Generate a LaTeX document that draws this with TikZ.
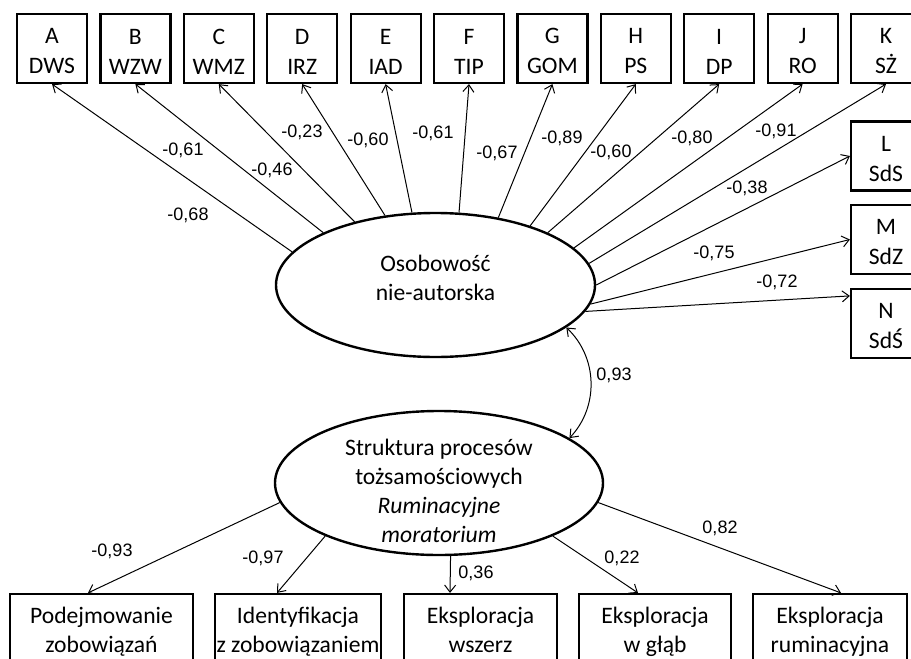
\documentclass[tikz,border=0pt]{standalone}
\usepackage{fontspec}
\setmainfont{Carlito}
\newfontfamily\numfont{Liberation Sans}
\usetikzlibrary{shapes.geometric,arrows.meta,calc}

\begin{document}
\begin{tikzpicture}[x=1pt, y=-1pt, >={Straight Barb[length=7pt,width=11pt]},
	obs/.style={draw, line width=2.2pt, inner sep=0pt, align=center, font=\fontsize{23.6}{30}\selectfont},
	latent/.style={draw, ellipse, line width=2.4pt, inner sep=0pt},
	lattext/.style={align=center, font=\fontsize{23.6}{29}\selectfont},
	load/.style={font=\numfont\fontsize{18}{20}\selectfont},
	path/.style={->, line width=1pt}]
\useasboundingbox (0,0) rectangle (911,659);
\clip (0,0) rectangle (911,659);
% Latent variables
				\node[latent, minimum width=319pt, minimum height=144pt] (osob) at (435.5,285) {};
				\node[lattext] (osobt) at (435.5,277.5) {Osobowość\\nie-autorska};
				\node[latent, minimum width=328pt, minimum height=144pt] (struk) at (439,483) {};
				\node[lattext] (strukt) at (439,490.5) {Struktura procesów\\tożsamościowych\\\textit{Ruminacyjne}\\\textit{moratorium}};
% Indicators of Osobowosc
				\foreach \n/\abbr [count=\i from 0] in {A/DWS,B/WZW,C/WMZ,D/IRZ,E/IAD,F/TIP,G/GOM,H/PS,I/DP,J/RO,K/SŻ}
					\node[obs, minimum width=70pt, minimum height=69pt] (\n) at (52+83.4*\i,48.5) {\strut\n\\\abbr};
				\foreach \n/\abbr/\y in {L/SdS/156,M/SdZ/239.5,N/SdŚ/323.5}
					\node[obs, minimum width=70pt, minimum height=69pt] (\n) at (886,\y) {\strut\n\\\abbr};
				\foreach \n/\a/\lx/\ly/\v in {A/167/188/215/{-0,68},B/155/183/150/{-0,61},C/142/272/170/{-0,46},
						D/126/302/132/{-0,23},E/108/368/140/{-0,60},F/72/433/133/{-0,61},G/47/497/153/{-0,67},
						H/32/562/138/{-0,89},I/25/611/152/{-0,60},J/15/692/138/{-0,80},K/8/776/131/{-0,91}}
					\draw[path] (osob.\a) -- (\n.south) node[load] (v\n) at (\lx,\ly) {\v};
				\draw[path] (osob.0) -- (L.west) node[load] (vL) at (747,188) {-0,38};
				\draw[path] (osob.353) -- (M.west) node[load] (vM) at (714,253) {-0,75};
				\draw[path] (osob.350) -- ($(N.north west)+(0,8)$) node[load] (vN) at (777,282) {-0,72};
% Correlation
				\draw[<->, line width=1pt] (osob.342) to[bend left=45] (struk.19);
				\node[load] (vr) at (614,375) {0,93};
% Identity processes
				\foreach \n/\x/\w/\txt in {podej/101.5/183/{Podejmowanie\\zobowiązań},ident/298/166/{Identyfikacja\\z zobowiązaniem},
						eksw/480.5/153/{Eksploracja\\wszerz},eksg/655/152/{Eksploracja\\w głąb},eksr/830/154/{Eksploracja\\ruminacyjna}}
					\node[obs, font=\fontsize{23.6}{29}\selectfont, minimum width=\w pt, minimum height=80pt] (\n) at (\x,634) {\txt\strut};
				\foreach \n/\a/\dx/\lx/\ly/\v in {podej/187/-13.5/112/551/{-0,93},ident/205/-21/263/558/{-0,97},
						eksw/279/-30.5/476/573/{0,36},eksg/335/-17/622/558/{0,22},eksr/353/11/720/528/{0,82}}
					\draw[path] (struk.\a) -- ($(\n.north)+(\dx,0)$) node[load] (v\n) at (\lx,\ly) {\v};
			\end{tikzpicture}
\end{document}
